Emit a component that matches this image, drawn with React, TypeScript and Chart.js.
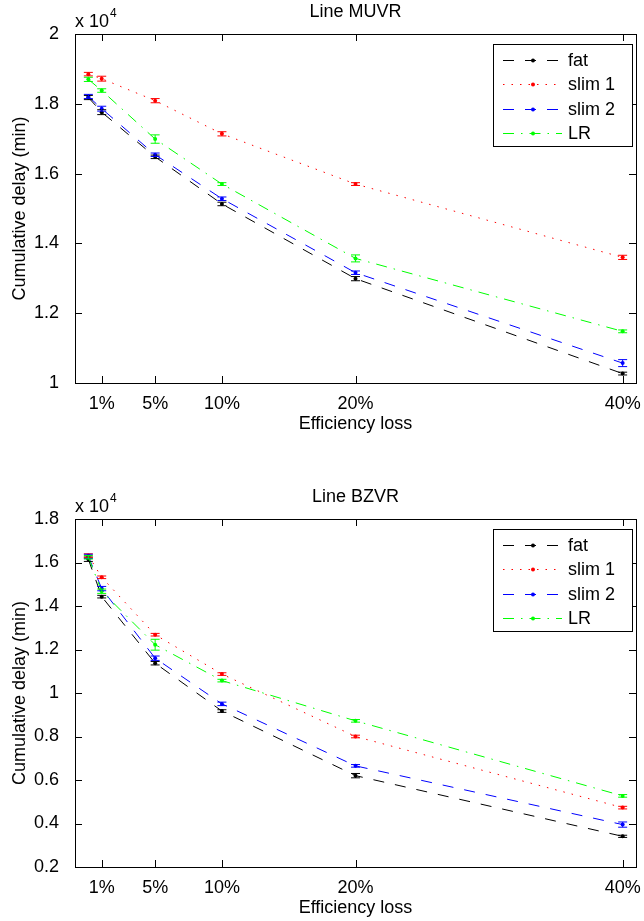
import React, { useEffect, useRef } from "react";
import { Chart, registerables } from "chart.js";
Chart.register(...registerables);

// ---------- data ----------
const xValues = [0, 1, 5, 10, 20, 40];
const xTickValues = [1, 5, 10, 20, 40];
const seriesNames = ["fat", "slim 1", "slim 2", "LR"];

const muvrYTicks = [1, 1.2, 1.4, 1.6, 1.8, 2];
const muvrFat = [1.818, 1.776, 1.648, 1.513, 1.299, 1.027];
const muvrSlim1 = [1.885, 1.872, 1.809, 1.714, 1.57, 1.36];
const muvrSlim2 = [1.821, 1.786, 1.654, 1.528, 1.316, 1.057];
const muvrLR = [1.87, 1.838, 1.699, 1.57, 1.357, 1.148];
const muvrFatErr = [0.006, 0.007, 0.005, 0.005, 0.006, 0.004];
const muvrSlim1Err = [0.005, 0.007, 0.006, 0.006, 0.004, 0.006];
const muvrSlim2Err = [0.006, 0.007, 0.005, 0.005, 0.005, 0.01];
const muvrLRErr = [0.006, 0.005, 0.012, 0.004, 0.01, 0.004];

const bzvrYTicks = [0.2, 0.4, 0.6, 0.8, 1, 1.2, 1.4, 1.6, 1.8];
const bzvrFat = [1.615, 1.443, 1.137, 0.917, 0.62, 0.341];
const bzvrSlim1 = [1.632, 1.532, 1.268, 1.087, 0.8, 0.473];
const bzvrSlim2 = [1.628, 1.48, 1.16, 0.95, 0.665, 0.395];
const bzvrLR = [1.624, 1.468, 1.222, 1.057, 0.872, 0.527];
const bzvrFatErr = [0.01, 0.006, 0.008, 0.006, 0.01, 0.005];
const bzvrSlim1Err = [0.008, 0.006, 0.006, 0.006, 0.006, 0.006];
const bzvrSlim2Err = [0.01, 0.01, 0.01, 0.008, 0.006, 0.012];
const bzvrLRErr = [0.008, 0.01, 0.025, 0.006, 0.006, 0.006];

// ---------- styles ----------
const seriesColors = ["#000000", "#ff0000", "#0000ff", "#00ff00"];
const seriesDashes = [
  [11, 11],
  [1.5, 7],
  [11, 11],
  [11, 7, 1.5, 7],
];
const FONT = "'Liberation Sans', Arial, Helvetica, sans-serif";
const FS = 18;

type PanelCfg = {
  title: string;
  yMin: number;
  yMax: number;
  yTicks: number[];
  series: number[][];
  errors: number[][];
  height: number;
  padTop: number;
  xAxisHeight: number;
};

const panels: PanelCfg[] = [
  {
    title: "Line MUVR",
    yMin: 1,
    yMax: 2,
    yTicks: muvrYTicks,
    series: [muvrFat, muvrSlim1, muvrSlim2, muvrLR],
    errors: [muvrFatErr, muvrSlim1Err, muvrSlim2Err, muvrLRErr],
    height: 460,
    padTop: 34,
    xAxisHeight: 77,
  },
  {
    title: "Line BZVR",
    yMin: 0.2,
    yMax: 1.8,
    yTicks: bzvrYTicks,
    series: [bzvrFat, bzvrSlim1, bzvrSlim2, bzvrLR],
    errors: [bzvrFatErr, bzvrSlim1Err, bzvrSlim2Err, bzvrLRErr],
    height: 461,
    padTop: 59,
    xAxisHeight: 54,
  },
];

const decorPlugin = {
  id: "matlabDecor",
  afterDatasetsDraw(chart: any) {
    const ctx = chart.ctx;
    const xs = chart.scales.x;
    const ys = chart.scales.y;
    const errs: number[][] = chart.options.plugins.matlabDecor.errors;
    chart.data.datasets.forEach((ds: any, di: number) => {
      ctx.save();
      ctx.strokeStyle = ds.borderColor;
      ctx.lineWidth = 1;
      ctx.setLineDash([]);
      ds.data.forEach((p: any, i: number) => {
        const e = errs[di][i];
        const px = xs.getPixelForValue(p.x);
        const y1 = ys.getPixelForValue(p.y - e);
        const y2 = ys.getPixelForValue(p.y + e);
        ctx.beginPath();
        ctx.moveTo(px, y1);
        ctx.lineTo(px, y2);
        ctx.moveTo(px - 4.5, y1);
        ctx.lineTo(px + 4.5, y1);
        ctx.moveTo(px - 4.5, y2);
        ctx.lineTo(px + 4.5, y2);
        ctx.stroke();
      });
      ctx.restore();
    });
  },
  afterDraw(chart: any) {
    const ctx = chart.ctx;
    const a = chart.chartArea;
    const xs = chart.scales.x;
    const ys = chart.scales.y;
    const opts = chart.options.plugins.matlabDecor;
    ctx.save();
    ctx.strokeStyle = "#000";
    ctx.lineWidth = 1;
    ctx.setLineDash([]);
    ctx.strokeRect(Math.round(a.left) + 0.5, Math.round(a.top) + 0.5, Math.round(a.right - a.left), Math.round(a.bottom - a.top));
    const TL = 7;
    ctx.beginPath();
    xTickValues.forEach((v) => {
      const px = Math.round(xs.getPixelForValue(v)) + 0.5;
      ctx.moveTo(px, a.bottom);
      ctx.lineTo(px, a.bottom - TL);
      ctx.moveTo(px, a.top);
      ctx.lineTo(px, a.top + TL);
    });
    opts.yTicks.forEach((v: number) => {
      const py = Math.round(ys.getPixelForValue(v)) + 0.5;
      ctx.moveTo(a.left, py);
      ctx.lineTo(a.left + TL, py);
      ctx.moveTo(a.right, py);
      ctx.lineTo(a.right - TL, py);
    });
    ctx.stroke();

    // legend
    const bx = a.right - 143;
    const by = a.top + 10;
    const bw = 139;
    const bh = 102;
    ctx.fillStyle = "#fff";
    ctx.fillRect(bx, by, bw, bh);
    ctx.strokeStyle = "#000";
    ctx.strokeRect(Math.round(bx) + 0.5, Math.round(by) + 0.5, bw, bh);
    ctx.font = `${FS}px ${FONT}`;
    ctx.textBaseline = "middle";
    ctx.textAlign = "left";
    seriesNames.forEach((name, i) => {
      const ry = Math.round(by + 16 + i * 24.3) + 0.5;
      ctx.strokeStyle = seriesColors[i];
      ctx.setLineDash(seriesDashes[i]);
      ctx.beginPath();
      ctx.moveTo(bx + 10, ry);
      ctx.lineTo(bx + 69, ry);
      ctx.stroke();
      ctx.setLineDash([]);
      ctx.fillStyle = seriesColors[i];
      ctx.beginPath();
      ctx.arc(bx + 40, ry, 2, 0, Math.PI * 2);
      ctx.fill();
      ctx.fillStyle = "#000";
      ctx.fillText(name, bx + 75, ry + 1);
    });

    // titles
    ctx.fillStyle = "#000";
    ctx.font = `${FS}px ${FONT}`;
    ctx.textAlign = "center";
    ctx.textBaseline = "middle";
    const cx = (a.left + a.right) / 2;
    ctx.fillText(opts.title, cx, a.top - 22);
    ctx.fillText("Efficiency loss", cx, a.bottom + 41);
    ctx.save();
    ctx.translate(20.5, (a.top + a.bottom) / 2);
    ctx.rotate(-Math.PI / 2);
    ctx.fillText("Cumulative delay (min)", 0, 0);
    ctx.restore();
    // exponent
    ctx.textAlign = "left";
    ctx.textBaseline = "alphabetic";
    ctx.fillText("x 10", a.left, a.top - 7);
    const w = ctx.measureText("x 10").width;
    ctx.font = `12px ${FONT}`;
    ctx.fillText("4", a.left + w + 1, a.top - 17);
    ctx.restore();
  },
};

function Panel({ cfg }: { cfg: PanelCfg }) {
  const ref = useRef<HTMLCanvasElement | null>(null);
  useEffect(() => {
    if (!ref.current) return;
    const chart = new Chart(ref.current, {
      type: "line",
      data: {
        datasets: cfg.series.map((vals, i) => ({
          label: seriesNames[i],
          data: xValues.map((x, j) => ({ x, y: vals[j] })),
          borderColor: seriesColors[i],
          backgroundColor: seriesColors[i],
          borderWidth: 1,
          borderDash: seriesDashes[i],
          pointRadius: 2,
          pointBorderWidth: 0,
          pointBackgroundColor: seriesColors[i],
          fill: false,
          tension: 0,
          order: 3 - i,
        })),
      },
      options: {
        animation: false,
        responsive: false,
        devicePixelRatio: 1,
        layout: { padding: { top: cfg.padTop, right: 8, left: 0, bottom: 0 } },
        plugins: {
          legend: { display: false },
          tooltip: { enabled: false },
          title: { display: false },
          matlabDecor: { errors: cfg.errors, yTicks: cfg.yTicks, title: cfg.title },
        } as any,
        scales: {
          x: {
            type: "linear",
            min: -1,
            max: 41,
            grid: { display: false },
            border: { display: false },
            afterBuildTicks: (s: any) => {
              s.ticks = xTickValues.map((v) => ({ value: v }));
            },
            afterFit: (s: any) => {
              s.height = cfg.xAxisHeight;
            },
            ticks: {
              padding: 2,
              maxRotation: 0,
              autoSkip: false,
              color: "#000",
              font: { family: FONT, size: FS },
              callback: (v: any) => `${v}%`,
            },
          },
          y: {
            type: "linear",
            min: cfg.yMin,
            max: cfg.yMax,
            grid: { display: false },
            border: { display: false },
            afterBuildTicks: (s: any) => {
              s.ticks = cfg.yTicks.map((v) => ({ value: v }));
            },
            afterFit: (s: any) => {
              s.width = 75;
            },
            ticks: {
              padding: 8,
              autoSkip: false,
              color: "#000",
              font: { family: FONT, size: FS },
              callback: (v: any) => String(Number(Number(v).toFixed(1))),
            },
          },
        },
      },
      plugins: [decorPlugin],
    });
    return () => chart.destroy();
  }, [cfg]);
  return (
    <canvas
      ref={ref}
      width={644}
      height={cfg.height}
      style={{ display: "block", width: 644, height: cfg.height }}
    />
  );
}

export default function App() {
  return (
    <div style={{ position: "absolute", left: 0, top: 0, width: 644, height: 921, background: "#fff" }}>
      {panels.map((p) => (
        <Panel key={p.title} cfg={p} />
      ))}
    </div>
  );
}
